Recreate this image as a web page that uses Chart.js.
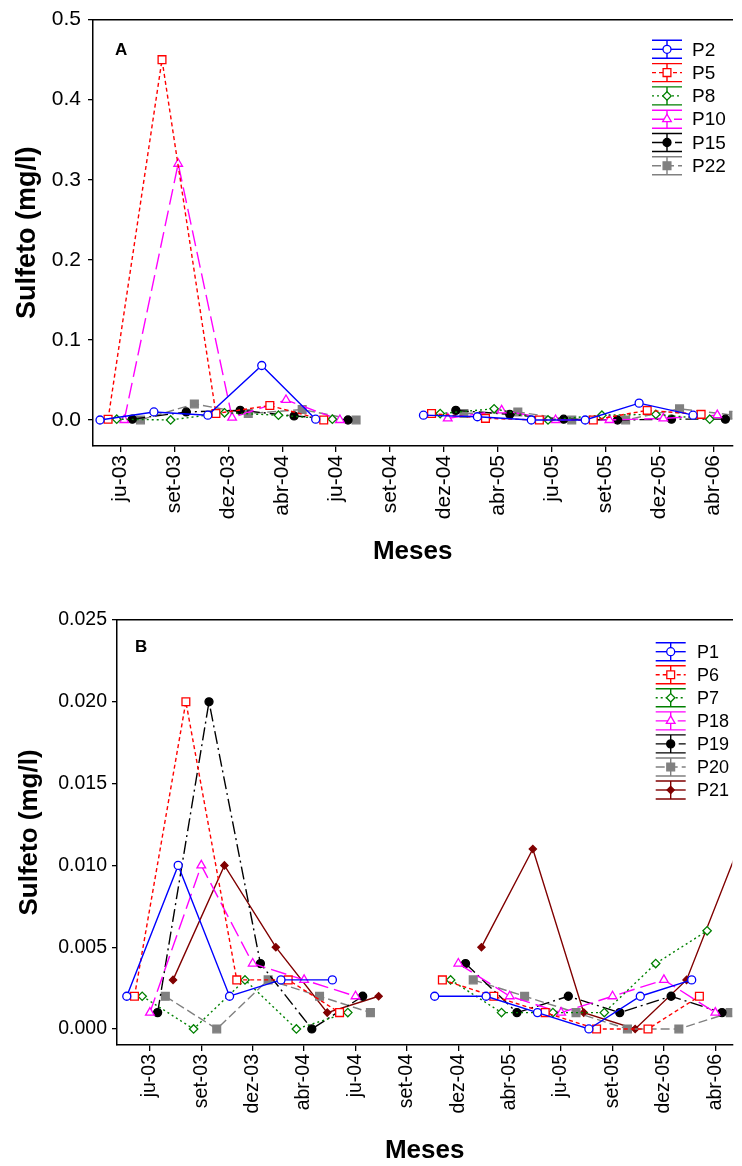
<!DOCTYPE html>
<html><head><meta charset="utf-8">
<script src="https://cdn.jsdelivr.net/npm/chart.js@4.4.1/dist/chart.umd.min.js"></script>
<style>
html,body{margin:0;padding:0;background:#fff;overflow:hidden;width:742px;height:1166px;position:relative}
canvas{display:block;position:absolute;left:0}
#cA{top:0}
#cB{top:580px}
</style></head><body>
<canvas id="cA" width="742" height="580"></canvas>
<canvas id="cB" width="742" height="586"></canvas>
<script>
// ---------- tick labels ----------
const monthTicks = ['ju-03','set-03','dez-03','abr-04','ju-04','set-04','dez-04','abr-05','ju-05','set-05','dez-05','abr-06'];
const yTickValsA = [0, 0.1, 0.2, 0.3, 0.4, 0.5];
const yTickLabelsA = ['0.0','0.1','0.2','0.3','0.4','0.5'];
const yTickValsB = [0, 0.005, 0.010, 0.015, 0.020, 0.025];
const yTickLabelsB = ['0.000','0.005','0.010','0.015','0.020','0.025'];

// ---------- Panel A (x in month-tick units, values in mg/l; null = no sample) ----------
const xA_P2  = [-0.38, 0.62, 1.62, 2.62, 3.62, null, 5.62, 6.62, 7.62, 8.62, 9.62, 10.62];
const vA_P2  = [0, 0.010, 0.006, 0.068, 0.001, null, 0.006, 0.004, 0, 0, 0.021, 0.006];
const xA_P5  = [-0.23, 0.77, 1.77, 2.77, 3.77, null, 5.77, 6.77, 7.77, 8.77, 9.77, 10.77];
const vA_P5  = [0.001, 0.450, 0.008, 0.018, 0, null, 0.008, 0.002, 0, 0, 0.012, 0.007];
const xA_P8  = [-0.07, 0.93, 1.93, 2.93, 3.93, null, 5.93, 6.93, 7.93, 8.93, 9.93, 10.93];
const vA_P8  = [0.001, 0, 0.009, 0.006, 0.001, null, 0.008, 0.014, 0, 0.006, 0.007, 0.001];
const xA_P10 = [0.07, 1.07, 2.07, 3.07, 4.07, null, 6.07, 7.07, 8.07, 9.07, 10.07, 11.07];
const vA_P10 = [0, 0.320, 0.003, 0.025, 0, null, 0.002, 0.012, 0, 0, 0.002, 0.006];
const xA_P15 = [0.22, 1.22, 2.22, 3.22, 4.22, null, 6.22, 7.22, 8.22, 9.22, 10.22, 11.22];
const vA_P15 = [0.001, 0.010, 0.012, 0.005, 0, null, 0.012, 0.007, 0.001, 0, 0.001, 0.001];
const xA_P22 = [0.37, 1.37, 2.37, 3.37, 4.37, null, 6.37, 7.37, 8.37, 9.37, 10.37, 11.37];
const vA_P22 = [0, 0.020, 0.008, 0.013, 0, null, 0.008, 0.010, 0, 0, 0.014, 0.006];

// ---------- Panel B ----------
const xB_P1  = [-0.45, 0.55, 1.55, 2.55, 3.55, null, 5.54, 6.54, 7.54, 8.54, 9.54, 10.54];
const vB_P1  = [0.002, 0.010, 0.002, 0.003, 0.003, null, 0.002, 0.002, 0.001, 0, 0.002, 0.003];
const xB_P6  = [-0.30, 0.70, 1.69, 2.69, 3.69, null, 5.69, 6.69, 7.69, 8.69, 9.69, 10.69];
const vB_P6  = [0.002, 0.020, 0.003, 0.003, 0.001, null, 0.003, 0.002, 0.001, 0, 0, 0.002];
const xB_P7  = [-0.15, 0.85, 1.85, 2.85, 3.85, null, 5.85, 6.84, 7.84, 8.84, 9.84, 10.84];
const vB_P7  = [0.002, 0, 0.003, 0, 0.001, null, 0.003, 0.001, 0.001, 0.001, 0.004, 0.006];
const xB_P18 = [0.0, 1.0, 2.0, 3.0, 4.0, null, 6.0, 7.0, 8.0, 9.0, 10.0, 11.0];
const vB_P18 = [0.001, 0.010, 0.004, 0.003, 0.002, null, 0.004, 0.002, 0.001, 0.002, 0.003, 0.001];
const xB_P19 = [0.15, 1.15, 2.15, 3.15, 4.14, null, 6.14, 7.14, 8.14, 9.14, 10.14, 11.13];
const vB_P19 = [0.001, 0.020, 0.004, 0, 0.002, null, 0.004, 0.001, 0.002, 0.001, 0.002, 0.001];
const xB_P20 = [0.30, 1.30, 2.30, 3.30, 4.29, null, 6.29, 7.29, 8.29, 9.29, 10.29, 11.29];
const vB_P20 = [0.002, 0, 0.003, 0.002, 0.001, null, 0.003, 0.002, 0.001, 0, 0, 0.001];
const xB_P21 = [0.45, 1.45, 2.45, 3.45, 4.45, null, 6.45, 7.45, 8.44, 9.44, 10.44, 11.44];
const vB_P21 = [0.003, 0.010, 0.005, 0.001, 0.002, null, 0.005, 0.011, 0.001, 0, 0.003, 0.011];

// ---------- styles ----------
const FONT = '"Liberation Sans", Arial, Helvetica, sans-serif';
Chart.defaults.font.family = FONT;
Chart.defaults.color = '#000';

const ST = {
  blue:    {c:'#0000ff', dash:[],            ps:'circle',  r:4,   fill:'#ffffff'},
  red:     {c:'#ff0000', dash:[4,3],         ps:'rect',    r:5.5, fill:'#ffffff'},
  green:   {c:'#008000', dash:[2,3],         ps:'rectRot', r:4.2, fill:'#ffffff'},
  magenta: {c:'#ff00ff', dash:[16,6],        ps:'triangle',r:5,   fill:'#ffffff'},
  black:   {c:'#000000', dash:[13,4,2,4],    ps:'circle',  r:4,   fill:'#000000'},
  gray:    {c:'#808080', dash:[9,4],         ps:'rect',    r:5.5, fill:'#808080'},
  dred:    {c:'#800000', dash:[],            ps:'rectRot', r:3.6, fill:'#800000'}
};

function series(label, xs, vs, st) {
  const data = xs.map((x, i) => ({
    x: x === null ? (xs[i-1] + xs[i+1]) / 2 : x,
    y: vs[i]
  }));
  return {
    label, data,
    borderColor: st.c, borderWidth: 1.4, borderDash: st.dash, tension: 0,
    pointStyle: st.ps, pointRadius: st.r, pointHoverRadius: st.r,
    pointBackgroundColor: st.fill, pointBorderColor: st.c, pointBorderWidth: 1.3,
    spanGaps: false, fill: false
  };
}

// legend + panel letter drawn inside plot area
const sigLegend = {
  id: 'sigLegend',
  afterDatasetsDraw(chart, args, o) {
    const ctx = chart.ctx;
    ctx.save();
    chart.data.datasets.forEach((ds, k) => {
      const cx = o.x, cy = o.y + k * o.step, hw = 15, hh = 9;
      ctx.lineWidth = 1.4;
      ctx.strokeStyle = ds.borderColor;
      ctx.setLineDash([]);
      ctx.beginPath();
      ctx.moveTo(cx - hw, cy - hh); ctx.lineTo(cx + hw, cy - hh);
      ctx.moveTo(cx - hw, cy + hh); ctx.lineTo(cx + hw, cy + hh);
      ctx.moveTo(cx, cy - hh); ctx.lineTo(cx, cy + hh);
      ctx.stroke();
      ctx.setLineDash(ds.borderDash || []);
      ctx.beginPath(); ctx.moveTo(cx - hw, cy); ctx.lineTo(cx + hw, cy); ctx.stroke();
      ctx.setLineDash([]);
      ctx.fillStyle = ds.pointBackgroundColor;
      ctx.strokeStyle = ds.pointBorderColor;
      ctx.lineWidth = ds.pointBorderWidth;
      Chart.helpers.drawPoint(ctx, {pointStyle: ds.pointStyle, radius: ds.pointRadius, rotation: 0, borderWidth: ds.pointBorderWidth}, cx, cy);
      ctx.fillStyle = '#000';
      ctx.font = o.fontSize + 'px ' + FONT;
      ctx.textBaseline = 'middle';
      ctx.textAlign = 'left';
      ctx.fillText(ds.label, o.tx, cy + 1);
    });
    ctx.font = 'bold ' + o.letterSize + 'px ' + FONT;
    ctx.textBaseline = 'alphabetic';
    ctx.fillStyle = '#000';
    ctx.fillText(o.letter, o.lx, o.ly);
    ctx.restore();
  }
};

function makeChart(id, cfg) {
  const axisFont = {family: FONT, size: cfg.tickSize};
  return new Chart(document.getElementById(id), {
    type: 'line',
    data: {datasets: cfg.datasets},
    plugins: [sigLegend],
    options: {
      responsive: false, animation: false, devicePixelRatio: 1,
      layout: {padding: {top: cfg.padTop, right: 0, bottom: 0, left: 0}},
      plugins: {legend: {display: false}, tooltip: {enabled: false}, sigLegend: cfg.legend},
      scales: {
        x: {
          type: 'linear', position: 'bottom', min: cfg.xMin, max: cfg.xMax,
          afterBuildTicks: s => { s.ticks = monthTicks.map((_, i) => ({value: i})); },
          afterFit: s => { s.height = cfg.xHeight; },
          ticks: {autoSkip: false, minRotation: 90, maxRotation: 90, padding: 3, color: '#000', font: axisFont,
                  callback: (v, i) => monthTicks[i]},
          grid: {drawOnChartArea: false, drawTicks: true, tickLength: 6, color: '#000', lineWidth: 1.3},
          border: {display: true, color: '#000', width: 1.5},
          title: {display: true, text: 'Meses', color: '#000', font: {family: FONT, size: 26, weight: 'bold'},
                  padding: {top: 0, bottom: cfg.xTitlePad}}
        },
        xTop: {
          type: 'linear', position: 'top', min: cfg.xMin, max: cfg.xMax, display: true,
          ticks: {display: false}, grid: {display: false, drawTicks: false},
          border: {display: true, color: '#000', width: 1.5},
          afterFit: s => { s.height = 0; }
        },
        y: {
          type: 'linear', position: 'left', min: cfg.yMin, max: cfg.yMax,
          afterBuildTicks: s => { s.ticks = cfg.yVals.map(v => ({value: v})); },
          afterFit: s => { s.width = cfg.yWidth; },
          ticks: {color: '#000', font: axisFont, padding: cfg.yTickPad, callback: (v, i) => cfg.yLabels[i]},
          grid: {drawOnChartArea: false, drawTicks: true, tickLength: 5, color: '#000', lineWidth: 1.3},
          border: {display: true, color: '#000', width: 1.5},
          title: {display: true, text: 'Sulfeto (mg/l)', color: '#000', font: {family: FONT, size: cfg.yTitleSize, weight: 'bold'},
                  padding: {top: cfg.yTitlePad, bottom: 0}}
        }
      }
    }
  });
}

makeChart('cA', {
  datasets: [
    series('P2',  xA_P2,  vA_P2,  ST.blue),
    series('P5',  xA_P5,  vA_P5,  ST.red),
    series('P8',  xA_P8,  vA_P8,  ST.green),
    series('P10', xA_P10, vA_P10, ST.magenta),
    series('P15', xA_P15, vA_P15, ST.black),
    series('P22', xA_P22, vA_P22, ST.gray)
  ],
  padTop: 19, xMin: -0.51, xMax: 11.35, yMin: -0.0325, yMax: 0.5,
  yVals: yTickValsA, yLabels: yTickLabelsA,
  yWidth: 93, xHeight: 134, tickSize: 21, yTickPad: 7, yTitleSize: 27, yTitlePad: 11, xTitlePad: 13,
  legend: {x: 667, y: 49.3, step: 23.3, tx: 692, fontSize: 19, letter: 'A', lx: 115, ly: 55, letterSize: 17}
});

makeChart('cB', {
  datasets: [
    series('P1',  xB_P1,  vB_P1,  ST.blue),
    series('P6',  xB_P6,  vB_P6,  ST.red),
    series('P7',  xB_P7,  vB_P7,  ST.green),
    series('P18', xB_P18, vB_P18, ST.magenta),
    series('P19', xB_P19, vB_P19, ST.black),
    series('P20', xB_P20, vB_P20, ST.gray),
    series('P21', xB_P21, vB_P21, ST.dred)
  ],
  padTop: 40, xMin: -0.64, xMax: 11.33, yMin: -0.00098, yMax: 0.025,
  yVals: yTickValsB, yLabels: yTickLabelsB,
  yWidth: 117, xHeight: 121, tickSize: 19.5, yTickPad: 5, yTitleSize: 26, yTitlePad: 14, xTitlePad: 0,
  legend: {x: 670.7, y: 71.7, step: 23.05, tx: 697, fontSize: 18, letter: 'B', lx: 135, ly: 72, letterSize: 17}
});
</script>
</body></html>
